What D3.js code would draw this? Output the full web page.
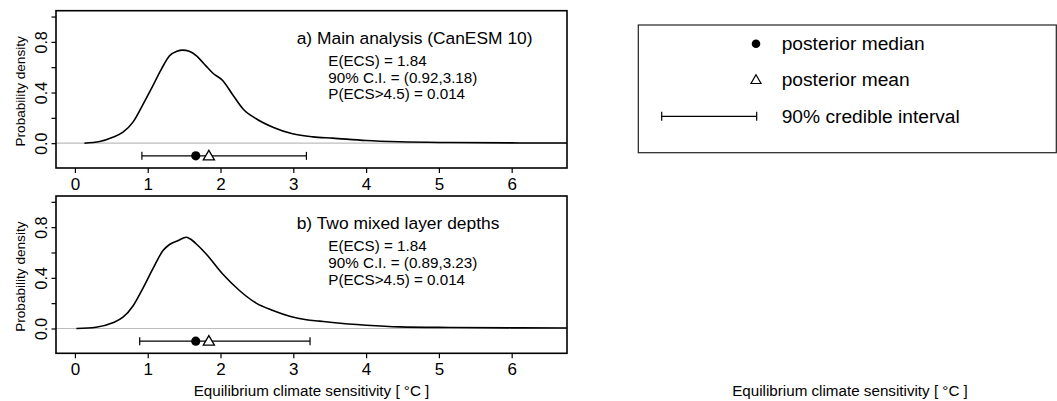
<!DOCTYPE html>
<html><head><meta charset="utf-8">
<script src="https://cdn.jsdelivr.net/npm/d3@7/dist/d3.min.js"></script>
<style>
body{margin:0;background:#fff;}
text{font-family:"Liberation Sans",Arial,Helvetica,sans-serif;fill:#000;}
</style></head>
<body><svg id="c" width="1057" height="401"></svg>
<script>
// ---- data ----
const xTicks = [0, 1, 2, 3, 4, 5, 6];
const yTicks = [0, 0.2, 0.4, 0.6, 0.8, 1.0];
const yTickLabels = {0: "0.0", 0.4: "0.4", 0.8: "0.8"};

const ecsA  = [0.13,0.34,0.52,0.66,0.80,0.93,1.05,1.19,1.30,1.40,1.48,1.57,1.67,1.80,1.90,2.03,2.17,2.31,2.49,2.72,2.99,3.27,3.54,4.00,4.46,5.15,6.00,6.80];
const densA = [0.0,0.013,0.047,0.087,0.168,0.30,0.43,0.587,0.69,0.725,0.735,0.725,0.69,0.61,0.55,0.495,0.38,0.27,0.193,0.126,0.074,0.050,0.040,0.021,0.011,0.005,0.002,0.001];

const ecsB  = [0.02,0.29,0.52,0.66,0.80,0.93,1.07,1.21,1.30,1.42,1.53,1.58,1.69,1.80,2.03,2.26,2.49,2.72,2.95,3.18,3.36,3.54,4.00,4.46,5.15,6.00,6.80];
const densB = [0.0,0.01,0.045,0.089,0.18,0.313,0.47,0.615,0.663,0.695,0.72,0.708,0.655,0.59,0.43,0.30,0.20,0.142,0.097,0.069,0.058,0.047,0.026,0.013,0.008,0.005,0.004];

const medians = [1.66, 1.66];
const means   = [1.84, 1.84];
const ciLow   = [0.92, 0.89];
const ciHigh  = [3.18, 3.23];
const panelTitles = ["a) Main analysis (CanESM 10)", "b) Two mixed layer depths"];
const panelStats = [
  ["E(ECS) = 1.84", "90% C.I. = (0.92,3.18)", "P(ECS>4.5) = 0.014"],
  ["E(ECS) = 1.84", "90% C.I. = (0.89,3.23)", "P(ECS>4.5) = 0.014"]
];
const legendLabels = ["posterior median", "posterior mean", "90% credible interval"];
const xTitle = "Equilibrium climate sensitivity [ \u00B0C ]";
const yTitle = "Probability density";

// ---- drawing ----
const svg = d3.select("#c");
const left = 56, right = 567;
const panels = [
  {top: 10.7, bottom: 168, ecs: ecsA, dens: densA},
  {top: 196, bottom: 353.3, ecs: ecsB, dens: densB}
];
const x = d3.scaleLinear().domain([-0.26, 6.76]).range([left, right]);

panels.forEach((p, i) => {
  const y = d3.scaleLinear().domain([-0.196, 1.046]).range([p.bottom, p.top]);
  const g = svg.append("g");
  const clipId = "clip" + i;
  svg.append("clipPath").attr("id", clipId).append("rect")
    .attr("x", left).attr("y", p.top).attr("width", right - left).attr("height", p.bottom - p.top);

  // zero line
  g.append("line").attr("x1", left).attr("x2", right)
    .attr("y1", y(0)).attr("y2", y(0)).attr("stroke", "#bdbdbd").attr("stroke-width", 1.2);

  // density curve
  const line = d3.line().x(d => x(d[0])).y(d => y(d[1])).curve(d3.curveMonotoneX);
  g.append("path").datum(p.ecs.map((e, k) => [e, p.dens[k]]))
    .attr("d", line).attr("fill", "none").attr("stroke", "#000").attr("stroke-width", 1.6)
    .attr("clip-path", `url(#${clipId})`);

  // credible interval
  const yi = y(-0.1);
  g.append("line").attr("x1", x(ciLow[i])).attr("x2", x(ciHigh[i])).attr("y1", yi).attr("y2", yi)
    .attr("stroke", "#000").attr("stroke-width", 1.2);
  [ciLow[i], ciHigh[i]].forEach(v => g.append("line").attr("x1", x(v)).attr("x2", x(v))
    .attr("y1", yi - 4).attr("y2", yi + 4).attr("stroke", "#000").attr("stroke-width", 1.2));
  g.append("circle").attr("cx", x(medians[i])).attr("cy", yi).attr("r", 4.6).attr("fill", "#000");
  const tx = x(means[i]);
  g.append("path").attr("d", `M${tx},${yi - 5.5}L${tx + 5.6},${yi + 4}L${tx - 5.6},${yi + 4}Z`)
    .attr("fill", "#fff").attr("stroke", "#000").attr("stroke-width", 1.3);

  // box
  g.append("rect").attr("x", left).attr("y", p.top).attr("width", right - left).attr("height", p.bottom - p.top)
    .attr("fill", "none").attr("stroke", "#000").attr("stroke-width", 1.6);

  // x axis
  const xa = g.append("g").attr("transform", `translate(0,${p.bottom})`)
    .call(d3.axisBottom(x).tickValues(xTicks).tickSize(5).tickSizeOuter(0).tickPadding(4).tickFormat(d3.format("d")));
  xa.select(".domain").remove();
  xa.selectAll("line").attr("stroke", "#000").attr("stroke-width", 1.2);
  xa.selectAll("text").attr("font-size", "17px").attr("dy", "0.75em")
    .style("font-family", '"Liberation Sans",Arial,sans-serif');

  // y axis
  const ya = g.append("g").attr("transform", `translate(${left},0)`)
    .call(d3.axisLeft(y).tickValues(yTicks).tickSize(4.5).tickSizeOuter(0)
      .tickFormat(d => yTickLabels[Math.round(d * 10) / 10] || ""));
  ya.select(".domain").remove();
  ya.selectAll("line").attr("stroke", "#000").attr("stroke-width", 1.2);
  ya.selectAll("text").attr("font-size", "16px")
    .attr("x", null).attr("dy", null).attr("text-anchor", "middle")
    .attr("transform", "translate(-9.5,0) rotate(-90)")
    .style("font-family", '"Liberation Sans",Arial,sans-serif');

  // y title
  svg.append("text").attr("transform", `translate(25,${(p.top + p.bottom) / 2 + 2}) rotate(-90)`)
    .attr("text-anchor", "middle").attr("font-size", "13.6px").text(yTitle);

  // annotations
  svg.append("text").attr("x", 296.7).attr("y", p.top + 33).attr("font-size", "17.4px").text(panelTitles[i]);
  panelStats[i].forEach((s, k) => svg.append("text").attr("x", 328.3).attr("y", p.top + 55.3 + k * 16.6)
    .attr("font-size", "15.2px").text(s));
});

// x titles
svg.append("text").attr("x", (left + right) / 2).attr("y", 396).attr("text-anchor", "middle")
  .attr("font-size", "15.2px").text(xTitle);
svg.append("text").attr("x", 850).attr("y", 396).attr("text-anchor", "middle")
  .attr("font-size", "15.2px").text(xTitle);

// legend
const lg = svg.append("g");
lg.append("rect").attr("x", 638.3).attr("y", 25).attr("width", 418).attr("height", 127.7)
  .attr("fill", "none").attr("stroke", "#222").attr("stroke-width", 1.2);
const lx = 756, ly = [43.7, 79.7, 116.3];
lg.append("circle").attr("cx", lx).attr("cy", ly[0]).attr("r", 4.3).attr("fill", "#000");
lg.append("path").attr("d", `M${lx},${ly[1] - 5}L${lx + 5},${ly[1] + 3.8}L${lx - 5},${ly[1] + 3.8}Z`)
  .attr("fill", "#fff").attr("stroke", "#000").attr("stroke-width", 1.2);
lg.append("line").attr("x1", 661.7).attr("x2", 756.7).attr("y1", ly[2]).attr("y2", ly[2]).attr("stroke", "#000").attr("stroke-width", 1.2);
[661.7, 756.7].forEach(v => lg.append("line").attr("x1", v).attr("x2", v).attr("y1", ly[2] - 4.5).attr("y2", ly[2] + 4.5)
  .attr("stroke", "#000").attr("stroke-width", 1.2));
legendLabels.forEach((t, k) => lg.append("text").attr("x", 781.7).attr("y", ly[k]).attr("dy", "0.35em")
  .attr("font-size", "19.2px").text(t));
</script></body></html>
